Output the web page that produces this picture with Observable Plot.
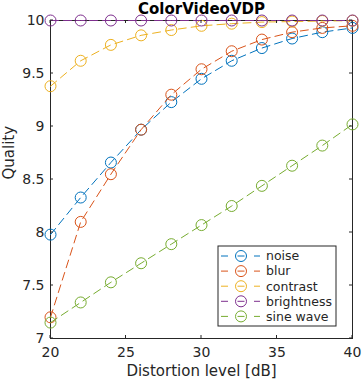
<!DOCTYPE html>
<html><head><meta charset="utf-8">
<script src="https://cdn.jsdelivr.net/npm/d3@7"></script>
<script src="https://cdn.jsdelivr.net/npm/@observablehq/plot@0.6"></script>
<style>
html,body{margin:0;padding:0;background:#fff;}
svg{overflow:visible;}
</style></head><body><div id="chart"></div>
<script>
const levels = [20, 22, 24, 26, 28, 30, 32, 34, 36, 38, 40];
const noise = [7.98, 8.33, 8.66, 8.97, 9.23, 9.45, 9.62, 9.74, 9.83, 9.89, 9.93];
const blur = [7.20, 8.10, 8.55, 8.97, 9.30, 9.54, 9.71, 9.82, 9.89, 9.93, 9.95];
const contrast = [9.38, 9.62, 9.77, 9.86, 9.91, 9.95, 9.97, 9.985, 9.99, 9.995, 9.998];
const brightness = [10, 10, 10, 10, 10, 10, 10, 10, 10, 10, 10];
const sineWave = [7.15, 7.34, 7.53, 7.71, 7.89, 8.07, 8.25, 8.44, 8.63, 8.82, 9.02];

const seriesNames = ["noise", "blur", "contrast", "brightness", "sine wave"];
const seriesValues = [noise, blur, contrast, brightness, sineWave];
const seriesColors = ["#0072BD", "#D95319", "#EDB120", "#7E2F8E", "#77AC30"];

const xTicks = [20, 25, 30, 35, 40];
const yTicks = [7, 7.5, 8, 8.5, 9, 9.5, 10];
const titleText = "ColorVideoVDP";
const xLabel = "Distortion level [dB]";
const yLabel = "Quality";

(function () {
const rows = seriesNames.map((name, i) =>
  seriesValues[i].map((v, j) => ({series: name, level: levels[j], quality: v})));

const axisColor = "#262626";

const chart = Plot.plot({
  width: 362,
  height: 381,
  marginLeft: 50,
  marginRight: 10,
  marginTop: 20,
  marginBottom: 43,
  style: {fontFamily: "DejaVu Sans", background: "white", color: axisColor, overflow: "visible"},
  x: {domain: [20, 40]},
  y: {domain: [7, 10]},
  marks: [
    Plot.axisX(xTicks, {tickSize: 0, tickPadding: 9, fontSize: 14, label: null, tickFormat: d => String(d), fill: axisColor}),
    Plot.axisY(yTicks, {tickSize: 0, tickPadding: 6, fontSize: 14, label: null, tickFormat: d => String(d), fill: axisColor}),
    Plot.frame({stroke: axisColor, strokeWidth: 1}),
    ...rows.flatMap((data, i) => [
      Plot.line(data, {x: "level", y: "quality", stroke: seriesColors[i], strokeWidth: 1, strokeDasharray: "8,5"}),
      Plot.dot(data, {x: "level", y: "quality", stroke: seriesColors[i], r: 5.5, fill: "none", strokeWidth: 1})
    ]),
    Plot.text([titleText], {frameAnchor: "top", lineAnchor: "bottom", dy: -7, fontSize: 15, fontWeight: "bold", fill: "#000"}),
    Plot.text([xLabel], {frameAnchor: "bottom", lineAnchor: "bottom", dy: 37, fontSize: 15, fill: axisColor}),
    Plot.text([yLabel], {frameAnchor: "left", lineAnchor: "bottom", rotate: -90, dx: -37, fontSize: 15, fill: axisColor})
  ]
});

document.getElementById("chart").appendChild(chart);

// inward tick marks on all four sides
const sx = chart.scale("x"), sy = chart.scale("y");
const svg = d3.select(chart);
const pxLeft = sx.range[0], pxRight = sx.range[1];
const pxBottom = sy.range[0], pxTop = sy.range[1];
const tl = 3;
const tg = svg.append("g").attr("stroke", axisColor).attr("stroke-width", 1);
for (const t of xTicks) {
  const px = sx.apply(t);
  tg.append("line").attr("x1", px).attr("x2", px).attr("y1", pxBottom).attr("y2", pxBottom - tl);
  tg.append("line").attr("x1", px).attr("x2", px).attr("y1", pxTop).attr("y2", pxTop + tl);
}
for (const t of yTicks) {
  const py = sy.apply(t);
  tg.append("line").attr("y1", py).attr("y2", py).attr("x1", pxLeft).attr("x2", pxLeft + tl);
  tg.append("line").attr("y1", py).attr("y2", py).attr("x1", pxRight).attr("x2", pxRight - tl);
}

// legend (bottom-right, inside the axes)
const lgW = 118, lgH = 80;
const lgX = pxRight - 16 - lgW, lgY = pxBottom - 12 - lgH;
const lg = svg.append("g").attr("transform", `translate(${lgX},${lgY})`).attr("text-anchor", "start");
lg.append("rect").attr("width", lgW).attr("height", lgH).attr("fill", "white").attr("stroke", axisColor).attr("stroke-width", 1);
seriesNames.forEach((name, i) => {
  const cy = 10 + i * 15.1;
  lg.append("line").attr("x1", 3).attr("x2", 42).attr("y1", cy).attr("y2", cy)
    .attr("stroke", seriesColors[i]).attr("stroke-width", 1).attr("stroke-dasharray", "7,9.5");
  lg.append("circle").attr("cx", 23).attr("cy", cy).attr("r", 5.5)
    .attr("fill", "none").attr("stroke", seriesColors[i]).attr("stroke-width", 1);
  lg.append("text").attr("x", 48).attr("y", cy).attr("dy", "0.35em").attr("text-anchor", "start")
    .attr("font-size", 12.5).attr("font-family", "DejaVu Sans").attr("fill", axisColor).text(name);
});
})();
</script>
</body></html>
